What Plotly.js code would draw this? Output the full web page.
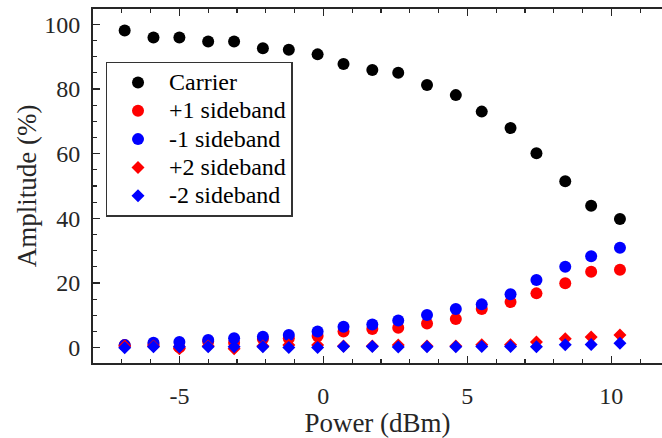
<!DOCTYPE html>
<html>
<head>
<meta charset="utf-8">
<script src="https://cdn.plot.ly/plotly-3.0.1.min.js"></script>
<style>html,body{margin:0;padding:0;overflow:hidden;background:#fff;}</style>
</head>
<body>
<div id="chart" style="width:662px;height:438px;"></div>
<script>
// Data
const power = [-6.9, -5.9, -5.0, -4.0, -3.1, -2.1, -1.2, -0.2, 0.7, 1.7, 2.6, 3.6, 4.6, 5.5, 6.5, 7.4, 8.4, 9.3, 10.3];
const carrier = [98.1, 95.9, 95.9, 94.7, 94.7, 92.6, 92.1, 90.7, 87.7, 85.9, 85.0, 81.2, 78.1, 73.0, 67.9, 60.1, 51.5, 43.9, 39.8];
const plus1 = [0.8, 1.0, 0.1, 1.9, 1.5, 2.7, 2.9, 3.6, 5.0, 5.8, 6.2, 7.5, 8.9, 12.0, 14.1, 16.8, 19.9, 23.5, 24.1];
const minus1 = [0.8, 1.5, 1.8, 2.4, 2.9, 3.4, 3.9, 5.0, 6.5, 7.2, 8.4, 10.1, 12.0, 13.4, 16.5, 20.9, 25.0, 28.3, 30.9];
const plus2 = [0.5, 0.5, -0.3, 0.5, -0.3, 0.5, 0.8, 0.8, 0.5, 0.5, 0.8, 0.5, 0.5, 0.9, 0.9, 1.8, 2.8, 3.3, 3.9];
const minus2 = [0.0, 0.3, 0.3, 0.3, 0.3, 0.3, 0.1, 0.1, 0.4, 0.4, 0.2, 0.3, 0.3, 0.4, 0.4, 0.3, 0.9, 1.0, 1.4];
const seriesNames = ['Carrier', '+1 sideband', '-1 sideband', '+2 sideband', '-2 sideband'];
const xTicks = [-5, 0, 5, 10];
const yTicks = [0, 20, 40, 60, 80, 100];

const FONT = 'Liberation Serif';
const INK = '#262626';

function span(t) { return '<span style="font-size:24px;font-family:\'Liberation Serif\'">' + t + '</span>'; }

const traces = [
  {y: carrier, color: '#000000', symbol: 'circle', size: 12},
  {y: plus1, color: '#ff0000', symbol: 'circle', size: 12},
  {y: minus1, color: '#0000ff', symbol: 'circle', size: 12},
  {y: plus2, color: '#ff0000', symbol: 'diamond', size: 10},
  {y: minus2, color: '#0000ff', symbol: 'diamond', size: 10}
].map((s, i) => ({
  type: 'scatter', mode: 'markers', x: power, y: s.y, name: span(seriesNames[i]),
  marker: {color: s.color, symbol: s.symbol, size: s.size, line: {width: 0}}
}));

const layout = {
  width: 662, height: 438,
  margin: {l: 93, r: 0, t: 9, b: 75, pad: 0},
  paper_bgcolor: '#ffffff', plot_bgcolor: '#ffffff',
  font: {family: FONT, color: INK, size: 24},
  showlegend: true,
  legend: {
    x: 0.022, y: 0.851, xanchor: 'left', yanchor: 'top',
    bgcolor: '#ffffff', bordercolor: '#333333', borderwidth: 1.5,
    font: {family: FONT, size: 19.5, color: '#000000'},
    itemwidth: 52
  },
  xaxis: {
    range: [-8.0, 11.76], showgrid: false, zeroline: false,
    showline: true, linecolor: INK, linewidth: 2, mirror: 'ticks',
    ticks: 'inside', ticklen: 7, tickwidth: 1.5, tickcolor: INK,
    tickvals: xTicks, ticktext: xTicks.map(String),
    minor: {dtick: 1, tick0: 0, ticks: 'inside', ticklen: 4, tickwidth: 1.2, tickcolor: INK},
    tickfont: {family: FONT, size: 24, color: INK},
    ticklabelstandoff: 10,
    title: {text: 'Power (dBm)', font: {family: FONT, size: 27, color: INK}, standoff: 4},
    automargin: false
  },
  yaxis: {
    range: [-4.73, 104.73], showgrid: false, zeroline: false,
    showline: true, linecolor: INK, linewidth: 2, mirror: false,
    ticks: 'inside', ticklen: 7, tickwidth: 1.5, tickcolor: INK,
    tickvals: yTicks, ticktext: yTicks.map(String),
    minor: {dtick: 5, tick0: 0, ticks: 'inside', ticklen: 4, tickwidth: 1.2, tickcolor: INK},
    tickfont: {family: FONT, size: 24, color: INK},
    ticklabelstandoff: 6,
    title: {text: 'Amplitude (%)', font: {family: FONT, size: 27, color: INK}, standoff: 0},
    automargin: false
  }
};

Plotly.newPlot('chart', traces, layout, {displayModeBar: false, staticPlot: true});
</script>
</body>
</html>
